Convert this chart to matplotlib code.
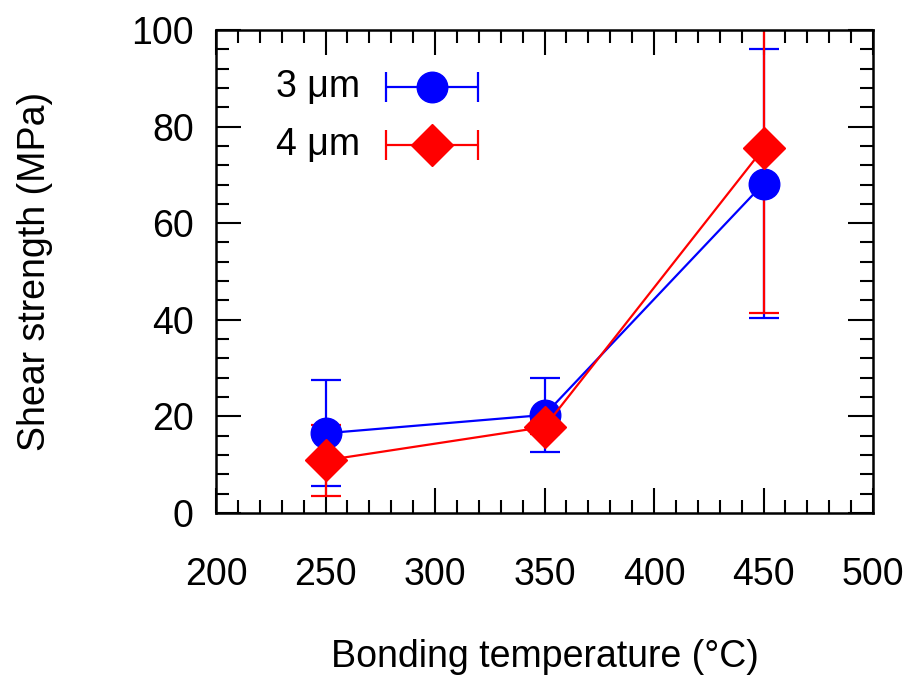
import matplotlib
matplotlib.use("Agg")
import matplotlib.pyplot as plt
import numpy as np
from matplotlib.ticker import MultipleLocator

plt.rcParams["font.family"] = ["Liberation Sans", "DejaVu Sans"]

temps = [250, 350, 450]
labels = ["3 μm", "4 μm"]
colors = ["#0000ff", "#ff0000"]
markers = ["o", "D"]
strength_3um = [16.5, 20.3, 68.2]
error_3um = [11.0, 7.7, 27.8]
strength_4um = [10.9, 17.8, 75.5]
error_4um = [7.4, 1.5, 34.0]

FS = 27
msize = {"o": 22, "D": 21}

fig = plt.figure(figsize=(9.08, 6.78), dpi=100)
ax = fig.add_axes([0.2379, 0.2434, 0.7236, 0.7124])

series = [(strength_3um, error_3um), (strength_4um, error_4um)]
for (vals, errs), col, mk in zip(series, colors, markers):
    ax.errorbar(temps, vals, yerr=errs, color=col, marker=mk, markersize=msize[mk],
                lw=1.6, elinewidth=1.6, capsize=10.5, capthick=1.6)

# gnuplot-style key: right-aligned text, horizontal error bar sample
key_y = [0.882, 0.762]
for lab, col, mk, ky in zip(labels, colors, markers, key_y):
    ax.text(0.219, ky, lab, transform=ax.transAxes, ha="right", va="center", fontsize=FS)
    ax.errorbar([0.329], [ky], xerr=[0.07], transform=ax.transAxes, color=col, marker=mk,
                markersize=msize[mk], lw=1.6, elinewidth=1.6, capsize=10.5,
                capthick=1.6, clip_on=False)

ax.set_xlim(200, 500)
ax.set_ylim(0, 100)
ax.xaxis.set_major_locator(MultipleLocator(50))
ax.xaxis.set_minor_locator(MultipleLocator(10))
ax.yaxis.set_major_locator(MultipleLocator(20))
ax.yaxis.set_minor_locator(MultipleLocator(4))
ax.tick_params(which="both", direction="in", top=True, right=True, width=1.5, labelsize=FS)
ax.tick_params(which="major", length=18)
ax.tick_params(which="minor", length=9.5)
ax.tick_params(axis="x", which="major", pad=32)
ax.tick_params(axis="y", which="major", pad=16)
for s in ax.spines.values():
    s.set_linewidth(1.8)

ax.set_xlabel("Bonding temperature (°C)", fontsize=FS, labelpad=33)
ax.set_ylabel("Shear strength (MPa)", fontsize=FS, labelpad=56)

fig.savefig("out.png", dpi=100)
